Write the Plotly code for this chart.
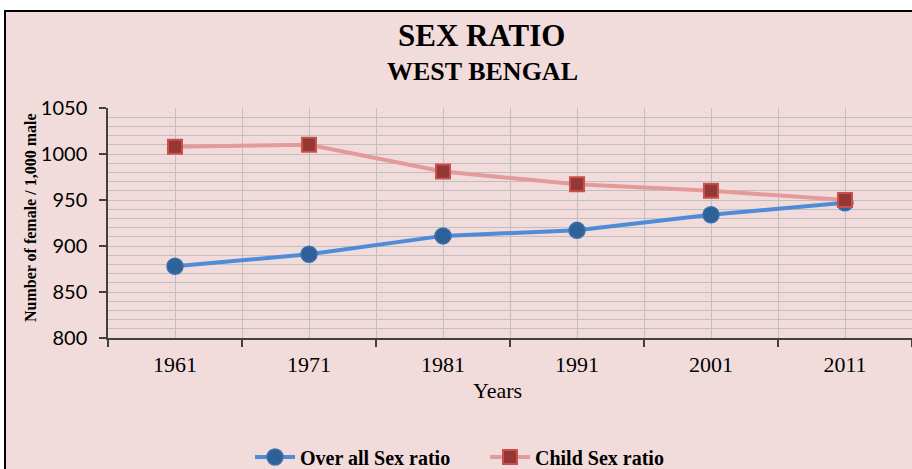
import plotly.graph_objects as go

years = ["1961", "1971", "1981", "1991", "2001", "2011"]
overall_sex_ratio = [878, 891, 911, 917, 934, 947]
child_sex_ratio = [1008, 1010, 981, 967, 960, 950]
y_ticks = [800, 850, 900, 950, 1000, 1050]

W, H = 912, 469
L, R, T, B = 108, 0, 108, 131
pw, ph = W - L - R, H - T - B

def px_x(p):
    return (p - L) / pw

def px_y(p):
    return (H - B - p) / ph

bg = "#F2DCDB"
grid = "#BFBFBF"
serif = "Liberation Serif, Times New Roman, serif"
idx = list(range(len(years)))

fig = go.Figure()
fig.add_trace(go.Scatter(
    x=idx, y=overall_sex_ratio, name="Over all Sex ratio", mode="lines+markers",
    line=dict(color="#4F8BD6", width=4),
    marker=dict(symbol="circle", size=16, color="#2F6199", line=dict(color="#3B6FAE", width=1.5)),
))
fig.add_trace(go.Scatter(
    x=idx, y=child_sex_ratio, name="Child Sex ratio", mode="lines+markers",
    line=dict(color="#E39A9A", width=4),
    marker=dict(symbol="square", size=14, color="#953735", line=dict(color="#C9504D", width=2)),
))

fig.update_layout(
    width=W, height=H,
    margin=dict(l=L, r=R, t=T, b=B, autoexpand=False),
    paper_bgcolor="white",
    plot_bgcolor="rgba(0,0,0,0)",
    showlegend=True,
    legend=dict(orientation="h", x=px_x(250), xanchor="left", y=px_y(457), yanchor="middle",
                font=dict(family=serif, size=20, color="#000000", weight="bold"),
                bgcolor="rgba(0,0,0,0)", itemwidth=40, tracegroupgap=0,
                entrywidth=180, entrywidthmode="pixels"),
    shapes=[dict(type="rect", xref="paper", yref="paper", layer="below",
                 x0=px_x(5), x1=px_x(W + 10), y0=px_y(H + 10), y1=px_y(11),
                 fillcolor=bg, line=dict(color="#000000", width=2))],
    annotations=[
        dict(text="<b>SEX RATIO</b>", xref="paper", yref="paper", x=px_x(481), y=px_y(35),
             xanchor="center", yanchor="middle", showarrow=False,
             font=dict(family=serif, size=31, color="#000000")),
        dict(text="<b>WEST BENGAL</b>", xref="paper", yref="paper", x=px_x(482), y=px_y(71),
             xanchor="center", yanchor="middle", showarrow=False,
             font=dict(family=serif, size=26, color="#000000")),
        dict(text="<b>Number of female / 1,000 male</b>", xref="paper", yref="paper",
             x=px_x(30), y=px_y(218), xanchor="center", yanchor="middle", showarrow=False,
             textangle=-90, font=dict(family=serif, size=16, color="#000000")),
        dict(text="Years", xref="paper", yref="paper", x=px_x(497), y=px_y(390),
             xanchor="center", yanchor="middle", showarrow=False,
             font=dict(family=serif, size=22, color="#000000")),
    ],
)

fig.update_xaxes(
    range=[-0.5, len(years) - 0.5],
    tickmode="array", tickvals=idx, ticktext=years,
    ticks="", showgrid=True, gridcolor=grid, gridwidth=1,
    tickfont=dict(family=serif, size=22, color="#000000"),
    ticklabelstandoff=6,
    showline=True, linecolor="#404040", linewidth=1.5,
    zeroline=False, fixedrange=True,
    minor=dict(tickvals=[i - 0.5 for i in range(len(years) + 1)], ticks="outside",
               ticklen=7, tickcolor="#404040", tickwidth=1.5, showgrid=True, gridcolor=grid),
)
fig.update_yaxes(
    range=[800, 1050], tickmode="array", tickvals=y_ticks,
    ticks="outside", ticklen=7, tickcolor="#404040", tickwidth=1.5,
    ticklabelstandoff=8,
    showgrid=True, gridcolor=grid, gridwidth=1,
    tickfont=dict(family="Lato, Carlito, sans-serif", size=20, color="#000000"),
    showline=True, linecolor="#404040", linewidth=1.5,
    zeroline=False, fixedrange=True,
    minor=dict(dtick=10, tick0=800, showgrid=True, gridcolor=grid, ticks=""),
)

fig.write_html("out.html")
